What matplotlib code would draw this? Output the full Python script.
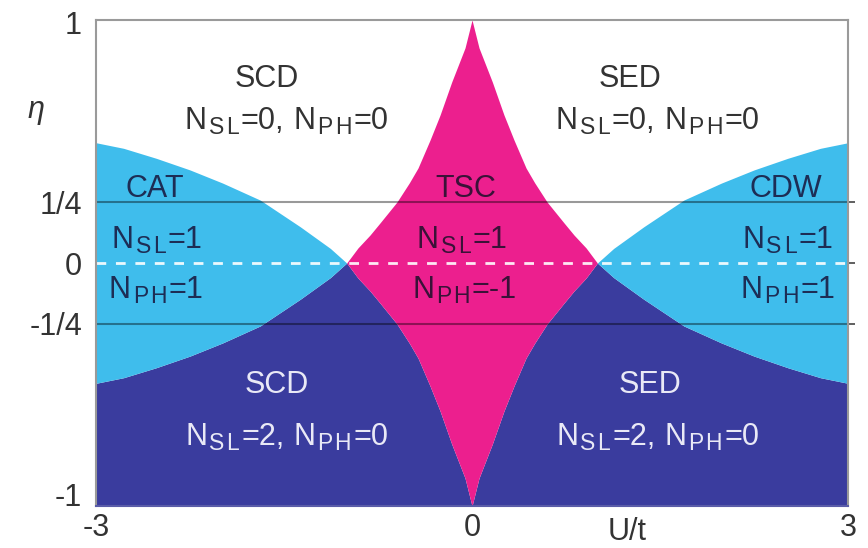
import numpy as np
import matplotlib
matplotlib.use("Agg")
import matplotlib.pyplot as plt
from matplotlib.transforms import ScaledTranslation

plt.rcParams["font.family"] = ["Liberation Sans", "DejaVu Sans"]

# --- Phase boundaries (left half, mirrored for U > 0) ---
# CAT / CDW region edge, |eta| below this curve for |U| > 1
cat_u = [-3.0, -2.78, -2.52, -2.25, -1.99, -1.69, -1.37, -1.13, -1.0]
cat_eta = [0.495, 0.472, 0.431, 0.383, 0.329, 0.259, 0.149, 0.06, 0.0]

# TSC region edge, |eta| below this curve for |U| < 1
tsc_u = [-1.0, -0.91, -0.814, -0.734, -0.599, -0.50, -0.431, -0.335, -0.255, -0.162, -0.056, 0.0]
tsc_eta = [0.0, 0.062, 0.115, 0.165, 0.251, 0.33, 0.391, 0.506, 0.609, 0.745, 0.885, 1.0]

ytick_pos = [1, 0.25, 0, -0.25, -1]
ytick_lab = ["1", "1/4", "0", "-1/4", "-1"]
xtick_pos = [-3, 0, 3]
xtick_lab = ["-3", "0", "3"]

# --- Colours ---
c_cyan = "#3fbdec"
c_mag = "#ec1f8e"
c_navy = "#3a3c9e"
c_dark = "#333333"
c_on_cyan = "#1d2d55"
c_on_mag = "#3a1238"
c_on_navy = "#e9e9f6"

# mirror left halves to the right
cu = np.array(cat_u)
ce = np.array(cat_eta)
tu = np.array(tsc_u)
te = np.array(tsc_eta)
tsc_x = np.concatenate([tu, -tu[::-1][1:]])
tsc_y = np.concatenate([te, te[::-1][1:]])
u_full = np.concatenate([cu, tsc_x[1:], -cu[::-1][1:]])
e_full = np.concatenate([ce, tsc_y[1:], ce[::-1][1:]])

fig = plt.figure(figsize=(8.68, 5.48), dpi=100)
ax = fig.add_axes([0.1106, 0.0766, 0.8664, 0.8869])

ax.fill_between(u_full, -1, -e_full, color=c_navy, lw=0)
ax.fill_between(cu, -ce, ce, color=c_cyan, lw=0)
ax.fill_between(-cu, -ce, ce, color=c_cyan, lw=0)
ax.fill_between(tsc_x, -tsc_y, tsc_y, color=c_mag, lw=0)

ax.axhline(0.25, color="k", alpha=0.4, lw=1.5)
ax.axhline(-0.25, color="k", alpha=0.4, lw=1.5)
ax.axhline(0, color="white", alpha=0.9, lw=2.0, dashes=(3.5, 3.5))

ax.set_xlim(-3, 3)
ax.set_ylim(-1, 1)

for s in ax.spines.values():
    s.set_color("#9a9a9a")
    s.set_linewidth(1.5)
ax.spines["bottom"].set_color("#5a5ca8")

# ticks
fs = 22
ax.set_xticks(xtick_pos)
ax.set_xticklabels(xtick_lab, fontsize=fs, color=c_dark)
ax.set_yticks(ytick_pos)
ax.set_yticklabels(ytick_lab, fontsize=fs, color=c_dark)
ax.tick_params(axis="x", length=0, pad=5)
ax.tick_params(axis="y", which="major", length=0, pad=10)
ax.set_yticks([0.25, 0, -0.25], minor=True)
ax.yaxis.remove_overlapping_locs = False
ax.tick_params(axis="y", which="minor", left=False, right=True, direction="out",
               length=5, width=1.2, color="#444444")

# nudge the end labels inward
for lab in ax.get_yticklabels():
    if lab.get_text() == "-1":
        lab.set_transform(lab.get_transform() + ScaledTranslation(0, 8 / 72, fig.dpi_scale_trans))
    if lab.get_text() == "1":
        lab.set_transform(lab.get_transform() + ScaledTranslation(0, -2 / 72, fig.dpi_scale_trans))

ax.text(1.24, -1.105, "U/t", fontsize=fs, color=c_dark, ha="center", va="center")
fig.text(0.041, 0.80, "η", fontsize=fs, color=c_dark, style="italic", ha="center", va="center")

renderer = fig.canvas.get_renderer()
sub_fs = 16.5


def pieces(spec):
    # "N_SL|=0,| |N_PH|=0" -> list of (text, size, dy_px, gap_px)
    out = []
    for tok in spec.split("|"):
        if tok == " ":
            out.append(("", fs, 0, 7))
        elif "_" in tok:
            base, sub = tok.split("_")
            out.append((base, fs, 0, 2))
            for ch in sub:
                out.append((ch, sub_fs, -5, 2))
        else:
            out.append((tok, fs, 0, 2))
    return out


def rich_text(x, y, spec, color):
    parts = pieces(spec)
    arts = []
    cursor = 0.0
    for s, size, dy, gap in parts:
        if s:
            t = ax.text(x, y, s, fontsize=size, color=color, ha="left", va="baseline")
            w = t.get_window_extent(renderer).width
            arts.append((t, cursor, dy))
            cursor += w
        cursor += gap
    total = cursor - parts[-1][3]
    for t, off, dy in arts:
        px = off - total / 2
        t.set_transform(ax.transData + ScaledTranslation(px / 100, dy / 100, fig.dpi_scale_trans))


labels = [
    (-1.64, 0.724, "SCD", c_dark),
    (-1.48, 0.551, "N_SL|=0,| |N_PH|=0", c_dark),
    (1.26, 0.724, "SED", c_dark),
    (1.48, 0.551, "N_SL|=0,| |N_PH|=0", c_dark),
    (-2.53, 0.272, "CAT", c_on_cyan),
    (-2.51, 0.062, "N_SL|=1", c_on_cyan),
    (-2.52, -0.144, "N_PH|=1", c_on_cyan),
    (-0.05, 0.272, "TSC", c_on_mag),
    (-0.08, 0.062, "N_SL|=1", c_on_mag),
    (-0.06, -0.144, "N_PH|=-1", c_on_mag),
    (2.50, 0.272, "CDW", c_on_cyan),
    (2.52, 0.062, "N_SL|=1", c_on_cyan),
    (2.52, -0.144, "N_PH|=1", c_on_cyan),
    (-1.56, -0.535, "SCD", c_on_navy),
    (-1.48, -0.749, "N_SL|=2,| |N_PH|=0", c_on_navy),
    (1.42, -0.535, "SED", c_on_navy),
    (1.48, -0.749, "N_SL|=2,| |N_PH|=0", c_on_navy),
]
for x, y, s, c in labels:
    rich_text(x, y, s, c)

fig.savefig("out.png", dpi=100)
